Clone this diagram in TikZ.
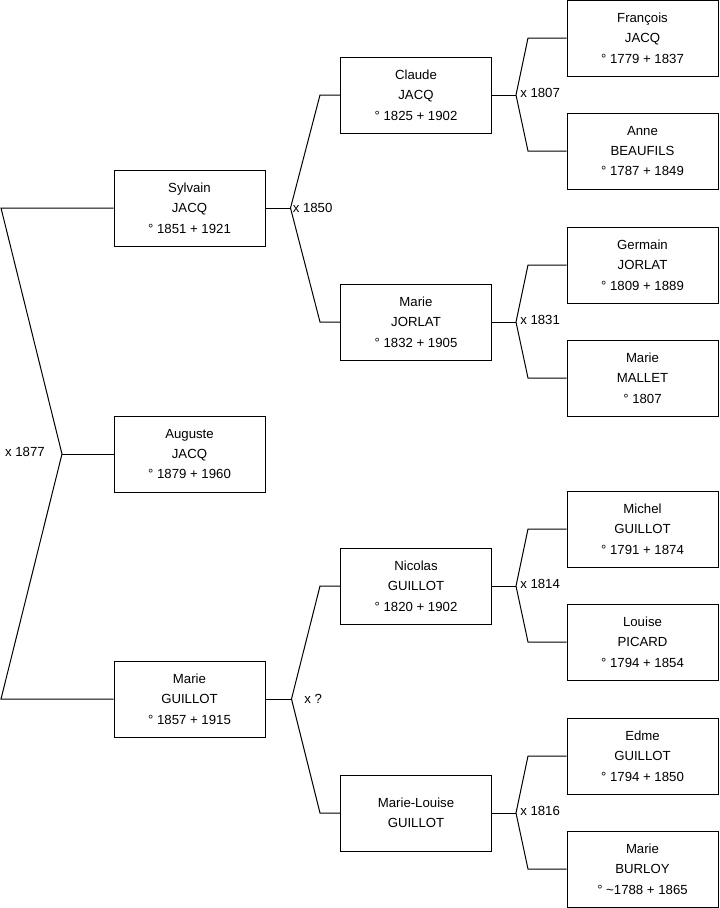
\documentclass[tikz,border=0pt]{standalone}
\usepackage{fontspec}
\setmainfont{Liberation Sans}
\begin{document}
\begin{tikzpicture}[x=0.75pt,y=-0.75pt,
  person/.style={draw,line width=0.75pt,minimum width=113.25pt,minimum height=57pt,
    inner sep=0pt,align=center,font=\fontsize{9.9}{15.3}\selectfont},
  link/.style={line width=0.75pt},
  wedding/.style={inner sep=0pt,font=\fontsize{9.9}{11}\selectfont}]
\useasboundingbox (0,0) rectangle (719,908);
% generation 1
\node[person] (auguste) at (189.5,454) {Auguste\\JACQ\\° 1879 + 1960};
% generation 2
\node[person] (sylvain) at (189.5,208) {Sylvain\\JACQ\\° 1851 + 1921};
\node[person] (marieg) at (189.5,699) {Marie\\GUILLOT\\° 1857 + 1915};
% generation 3
\node[person] (claude) at (416,95) {Claude\\JACQ\\° 1825 + 1902};
\node[person] (mariej) at (416,322) {Marie\\JORLAT\\° 1832 + 1905};
\node[person] (nicolas) at (416,586) {Nicolas\\GUILLOT\\° 1820 + 1902};
\node[person] (mariel) at (416,813) {Marie-Louise\\GUILLOT};
% generation 4
\node[person] (francois) at (642.5,38) {François\\JACQ\\° 1779 + 1837};
\node[person] (anne) at (642.5,151) {Anne\\BEAUFILS\\° 1787 + 1849};
\node[person] (germain) at (642.5,265) {Germain\\JORLAT\\° 1809 + 1889};
\node[person] (mariem) at (642.5,378) {Marie\\MALLET\\° 1807};
\node[person] (michel) at (642.5,529) {Michel\\GUILLOT\\° 1791 + 1874};
\node[person] (louise) at (642.5,642) {Louise\\PICARD\\° 1794 + 1854};
\node[person] (edme) at (642.5,756) {Edme\\GUILLOT\\° 1794 + 1850};
\node[person] (marieb) at (642.5,869) {Marie\\BURLOY\\° \textasciitilde1788 + 1865};
% couple of generation 2
\coordinate (f1) at (62,454);
\coordinate (s1) at (1,0);
\draw[link] (sylvain.west) -- (sylvain.west -| s1) -- (f1) -- (marieg.west -| s1) -- (marieg.west);
\draw[link] (f1) -- (auguste.west);
\node[wedding,anchor=east] (x1877) at (45,452) {x 1877};
% couples of generation 3
\coordinate (s2) at (320,0);
\draw[link] (sylvain.east) -- ++(25,0) coordinate (f2);
\draw[link] (claude.west) -- (claude.west -| s2) -- (f2) -- (mariej.west -| s2) -- (mariej.west);
\node[wedding,anchor=west] (x1850) at ([xshift=1.5pt]f2) {x 1850};
\draw[link] (marieg.east) -- ++(26,0) coordinate (f3);
\draw[link] (nicolas.west) -- (nicolas.west -| s2) -- (f3) -- (mariel.west -| s2) -- (mariel.west);
\node[wedding,anchor=west] (xq) at ([xshift=9.5pt]f3) {x ?};
% couples of generation 4
\coordinate (s3) at (528,0);
\draw[link] (claude.east) -- ++(24,0) coordinate (f4);
\draw[link] (francois.west) -- (francois.west -| s3) -- (f4) -- (anne.west -| s3) -- (anne.west);
\node[wedding,anchor=west] (x1807) at ([xshift=3pt,yshift=1.5pt]f4) {x 1807};
\draw[link] (mariej.east) -- ++(24,0) coordinate (f5);
\draw[link] (germain.west) -- (germain.west -| s3) -- (f5) -- (mariem.west -| s3) -- (mariem.west);
\node[wedding,anchor=west] (x1831) at ([xshift=3pt,yshift=1.5pt]f5) {x 1831};
\draw[link] (nicolas.east) -- ++(24,0) coordinate (f6);
\draw[link] (michel.west) -- (michel.west -| s3) -- (f6) -- (louise.west -| s3) -- (louise.west);
\node[wedding,anchor=west] (x1814) at ([xshift=3pt,yshift=1.5pt]f6) {x 1814};
\draw[link] (mariel.east) -- ++(24,0) coordinate (f7);
\draw[link] (edme.west) -- (edme.west -| s3) -- (f7) -- (marieb.west -| s3) -- (marieb.west);
\node[wedding,anchor=west] (x1816) at ([xshift=3pt,yshift=1.5pt]f7) {x 1816};
\end{tikzpicture}
\end{document}
